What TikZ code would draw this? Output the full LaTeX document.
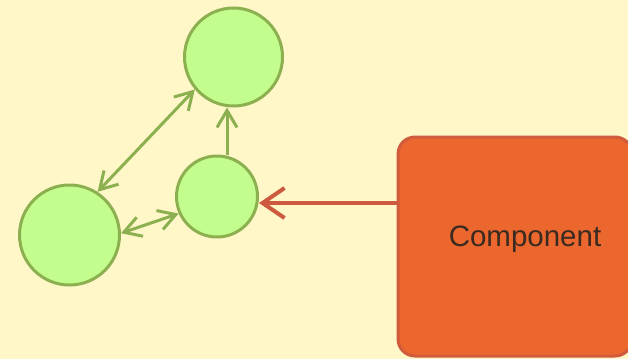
\documentclass[tikz,border=0pt]{standalone}
\usepackage{fontspec}
\setmainfont{Liberation Sans}
\usetikzlibrary{arrows.meta}
\definecolor{bg}{HTML}{FFF7C8}
\definecolor{nodefill}{HTML}{C3FD8E}
\definecolor{nodeline}{HTML}{8CB050}
\definecolor{boxfill}{HTML}{EB672E}
\definecolor{boxline}{HTML}{D05A3C}
\definecolor{redline}{HTML}{CD5A3F}
\definecolor{txt}{HTML}{3A2A20}
\tikzset{
  circ/.style={circle, draw=nodeline, fill=nodefill, line width=3pt, inner sep=0pt},
  glink/.style={draw=nodeline, line width=3pt, {Straight Barb[length=17pt,width=20pt,line width=3pt]}-{Straight Barb[length=17pt,width=20pt,line width=3pt]}},
  gone/.style={draw=nodeline, line width=3pt, -{Straight Barb[length=17pt,width=20pt,line width=3pt]}},
  rlink/.style={draw=redline, line width=4pt, -{Straight Barb[length=22pt,width=30pt,line width=4pt]}},
  compbox/.style={draw=boxline, fill=boxfill, line width=3pt, rounded corners=17pt, minimum width=234pt, minimum height=219pt, inner sep=0pt}
}
\begin{document}
\begin{tikzpicture}[x=1pt,y=-1pt]
\fill[bg] (0,0) rectangle (628,359);
\useasboundingbox (0,0) rectangle (628,359);
\clip (0,0) rectangle (628,359);
\node[circ, minimum size=98pt] (top) at (233.5,57) {};
\node[circ, minimum size=81pt] (mid) at (217,196.5) {};
\node[circ, minimum size=100pt] (left) at (69.5,235) {};
\node[compbox] (comp) at (515,246.5) {};
\node[text=txt, font=\fontsize{29.5pt}{32pt}\selectfont] (label) at (525,239) {Component};
\draw[gone] (mid.north -| 227,0) -- (top.south -| 227,0);
\draw[glink] (left.57) -- (top.220);
\draw[glink] (left.2) -- (mid.204);
\draw[rlink] (comp.west |- 0,203) -- (mid.east |- 0,203);
\end{tikzpicture}
\end{document}
